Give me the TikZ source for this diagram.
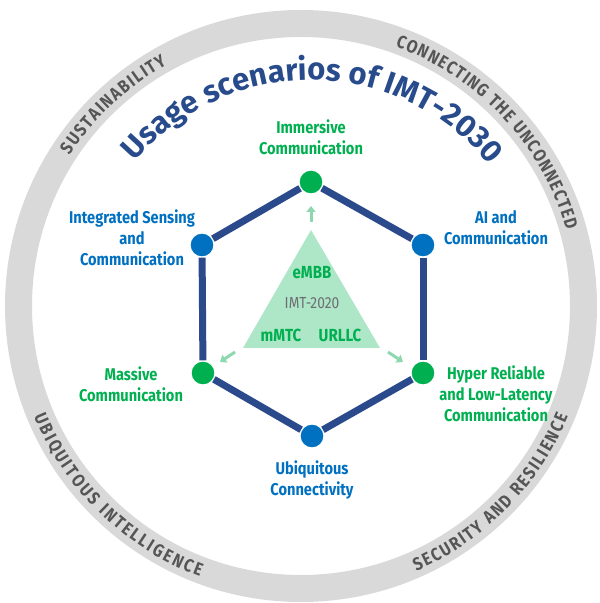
\documentclass[tikz,border=0pt]{standalone}
\usepackage{fontspec}
\setmainfont{Fira Sans}
\newfontfamily\labfont{Fira Sans}[FakeStretch=0.86]
\usetikzlibrary{decorations.text,arrows.meta}
\definecolor{ringgray}{HTML}{D9D9D9}
\definecolor{ringtext}{HTML}{555555}
\definecolor{navy}{HTML}{2B4A8B}
\definecolor{titleblue}{HTML}{284B8C}
\definecolor{dotgreen}{HTML}{00B050}
\definecolor{dotblue}{HTML}{0070C0}
\definecolor{mint}{HTML}{AEE6C8}
\definecolor{mintarrow}{HTML}{8ED8B0}
\definecolor{imtgray}{HTML}{6D6E71}
\newcommand{\ringfnt}{\labfont\bfseries\fontsize{18}{18}\selectfont}
\newcommand{\titlefnt}{\bfseries\fontsize{31}{31}\selectfont}
\tikzset{
  dot/.style={circle, fill=#1, draw=white, line width=1.2pt, minimum size=24pt, inner sep=0pt},
  hexedge/.style={draw=navy, line width=7pt},
  lab/.style={align=center, font=\labfont\bfseries\fontsize{17}{20.8}\selectfont, inner sep=0pt},
  glab/.style={lab, text=dotgreen},
  blab/.style={lab, text=dotblue},
  trilab/.style={text=dotgreen, font=\labfont\bfseries\fontsize{17.5}{17.5}\selectfont, inner sep=0pt},
  minarrow/.style={draw=mintarrow, line width=3pt, -{Triangle[width=9pt,length=6pt]}},
  ringtop/.style={decorate, decoration={text along path, text align=fit to path, text color=ringtext, text={|\ringfnt|#1}}},
}
\begin{document}
\begin{tikzpicture}[x=1pt,y=1pt]
\useasboundingbox (0,0) rectangle (600,603);
\coordinate (C) at (301,297);
\coordinate (T0) at (311,292);
% ring
\draw[ringgray, line width=27pt] (C) circle (282.5);
\path[ringtop={SUSTAINABILITY}] ([shift={(147:276)}]C) arc[start angle=147, end angle=119, radius=276];
\path[ringtop={CONNECTING THE UNCONNECTED}] ([shift={(70:276)}]C) arc[start angle=70, end angle=16, radius=276];
\path[ringtop={UBIQUITOUS INTELLIGENCE}] ([shift={(202.5:289)}]C) arc[start angle=202.5, end angle=249.5, radius=289];
\path[ringtop={SECURITY AND RESILIENCE}] ([shift={(293.5:289)}]C) arc[start angle=293.5, end angle=337.5, radius=289];
% title
\path[decorate, decoration={text along path, text align=center, text color=titleblue, text={|\titlefnt|Usage scenarios of IMT-2030}}] ([shift={(139:231)}]T0) arc[start angle=139, end angle=40, radius=231];
% hexagon
\node[dot=dotgreen] (t) at (311,421) {};
\node[dot=dotblue] (ul) at (202,358) {};
\node[dot=dotblue] (ur) at (423,358) {};
\node[dot=dotgreen] (ll) at (203,230) {};
\node[dot=dotgreen] (lr) at (423,230) {};
\node[dot=dotblue] (b) at (312,167) {};
\draw[hexedge] (t) -- (ur);
\draw[hexedge] (ur) -- (lr);
\draw[hexedge] (lr) -- (b);
\draw[hexedge] (b) -- (ll);
\draw[hexedge] (ll) -- (ul);
\draw[hexedge] (ul) -- (t);
% triangle
\coordinate (ta) at (311,373);
\coordinate (tb) at (243,255);
\coordinate (tc) at (380,255);
\fill[mint] (ta) -- (tb) -- (tc) -- cycle;
\node[trilab] (embb) at (312,330) {eMBB};
\node[text=imtgray, font=\labfont\fontsize{16}{16}\selectfont, inner sep=0pt] (imt) at (312,300) {IMT-2020};
\node[trilab] (mmtc) at (281,268) {mMTC};
\node[trilab] (urllc) at (340,268) {URLLC};
% arrows
\coordinate (a1s) at (311,381); \coordinate (a1e) at (311,397);
\coordinate (a2s) at (235,251); \coordinate (a2e) at (220,241);
\coordinate (a3s) at (388,251); \coordinate (a3e) at (403,241);
\draw[minarrow] (a1s) -- (a1e);
\draw[minarrow] (a2s) -- (a2e);
\draw[minarrow] (a3s) -- (a3e);
% labels
\node[glab] (l1) at (311,465.5) {Immersive\\Communication};
\node[blab] (l2) at (132,365) {Integrated Sensing\\and\\Communication};
\node[blab] (l3) at (496,375) {AI and\\Communication};
\node[glab] (l4) at (131,219) {Massive\\Communication};
\node[glab] (l5) at (496,209) {Hyper Reliable\\and Low-Latency\\Communication};
\node[blab] (l6) at (312,123) {Ubiquitous\\Connectivity};
\end{tikzpicture}
\end{document}
